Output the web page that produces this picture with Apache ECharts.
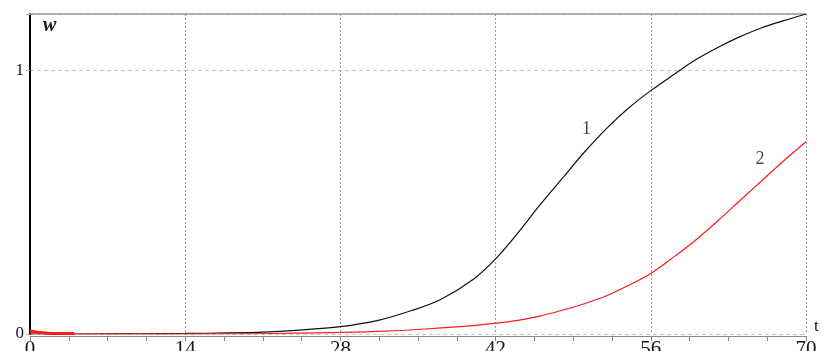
<!DOCTYPE html>
<html>
<head>
<meta charset="utf-8">
<script src="https://cdn.jsdelivr.net/npm/echarts@6/dist/echarts.min.js"></script>
<style>html,body{margin:0;padding:0;background:#fff;}#c{width:823px;height:351px;}</style>
</head>
<body>
<div id="c"></div>
<script>
// Curve 1 (black)
const t1 = [0, 5, 10, 14, 18, 21, 24, 28, 31.5, 34.5, 37, 40, 42, 44, 46, 48, 50, 52, 54, 56, 58, 60, 62, 64, 66, 68, 70];
const w1 = [0, 0.0, 0.001, 0.002, 0.004, 0.007, 0.014, 0.028, 0.053, 0.09, 0.13, 0.208, 0.285, 0.383, 0.49, 0.59, 0.69, 0.78, 0.858, 0.924, 0.983, 1.04, 1.087, 1.128, 1.163, 1.19, 1.215];
// Curve 2 (red)
const t2 = [0, 0.5, 1, 1.5, 2, 2.5, 3, 3.5, 4.5, 6, 8, 14, 20, 24, 28, 32, 36, 40, 42, 44, 46, 48, 50, 52, 54, 56, 58, 60, 62, 64, 66, 68, 70];
const w2 = [0.015, 0.011, 0.007, 0.004, 0.002, 0.0, -0.001, -0.001, 0.0, 0.001, 0.0, 0.0, 0.001, 0.003, 0.006, 0.011, 0.02, 0.032, 0.041, 0.052, 0.068, 0.09, 0.115, 0.145, 0.185, 0.23, 0.29, 0.355, 0.428, 0.505, 0.582, 0.658, 0.73];
// Curve 2, initial transient (drawn thick)
const t2Start = [0, 1, 2, 3, 4];
const w2Start = [0.009, 0.005, 0.002, 0.0015, 0.002];
// Axis ticks
const xTicks = [0, 14, 28, 42, 56, 70];
const yTicks = [0, 1];
// Curve labels
const curveLabels = ['1', '2'];
const curveLabelAt = [[50.2, 0.778], [65.85, 0.665]];

const chart = echarts.init(document.getElementById('c'), null, {renderer: 'canvas'});
const zip = (a, b) => a.map((v, i) => [v, b[i]]);
const serif = 'Liberation Serif';
const ink = '#14161f';
chart.setOption({
  animation: false,
  grid: {left: 30, right: 17, top: 14, bottom: 17, outerBoundsMode: 'none', containLabel: false},
  xAxis: [{
    type: 'value', min: xTicks[0], max: xTicks[xTicks.length - 1], interval: 14,
    offset: 2,
    axisLine: {show: true, onZero: false, lineStyle: {color: '#888', width: 1}},
    axisTick: {show: true, length: 5, lineStyle: {color: '#888'}},
    minorTick: {show: true, splitNumber: 4, length: 5, lineStyle: {color: '#888'}},
    axisLabel: {fontFamily: serif, fontSize: 21, color: ink, margin: 3,
      formatter: v => xTicks.includes(v) ? String(v) : ''},
    splitLine: {show: true, lineStyle: {color: '#999', type: [2, 2], width: 1}},
    name: 't', nameLocation: 'end', nameGap: 8,
    nameTextStyle: {fontFamily: serif, fontSize: 17, color: ink, verticalAlign: 'bottom', padding: [0, 0, 1, 0]}
  }, {
    type: 'value', position: 'top', min: 0, max: 70,
    axisLine: {show: true, onZero: false, lineStyle: {color: '#999', width: 1.5}},
    axisTick: {show: false}, axisLabel: {show: false}, splitLine: {show: false}
  }],
  yAxis: {
    type: 'value', min: 0, max: 1.215, interval: 1,
    axisLine: {show: true, onZero: false, lineStyle: {color: '#000', width: 2}},
    axisTick: {show: true, length: 4, lineStyle: {color: '#aaa'}},
    axisLabel: {fontFamily: serif, fontSize: 17, color: ink, margin: 6,
      formatter: v => yTicks.includes(v) ? String(v) : ''},
    splitLine: {show: true, lineStyle: {color: '#c8c8c8', type: [4, 3], width: 1}},
    name: 'w', nameLocation: 'end', nameGap: -22,
    nameTextStyle: {fontFamily: serif, fontStyle: 'italic', fontWeight: 'bold', fontSize: 20, color: ink, align: 'left', padding: [0, 0, 0, 13]}
  },
  series: [{
    type: 'line', data: zip(t1, w1), smooth: 0.3, symbol: 'none',
    lineStyle: {color: '#111', width: 1.2}
  }, {
    type: 'line', data: zip(t2, w2), smooth: 0.3, symbol: 'none',
    lineStyle: {color: '#ff1a1a', width: 1.2}
  }, {
    type: 'line', data: zip(t2Start, w2Start), smooth: 0.3, symbol: 'none',
    lineStyle: {color: '#ff1a1a', width: 3}
  }, {
    type: 'scatter', symbolSize: 0,
    data: curveLabelAt.map((p, i) => ({value: p, name: curveLabels[i]})),
    label: {show: true, position: 'inside', formatter: p => p.name,
      fontFamily: serif, fontSize: 18, color: ink}
  }]
});
</script>
</body>
</html>
